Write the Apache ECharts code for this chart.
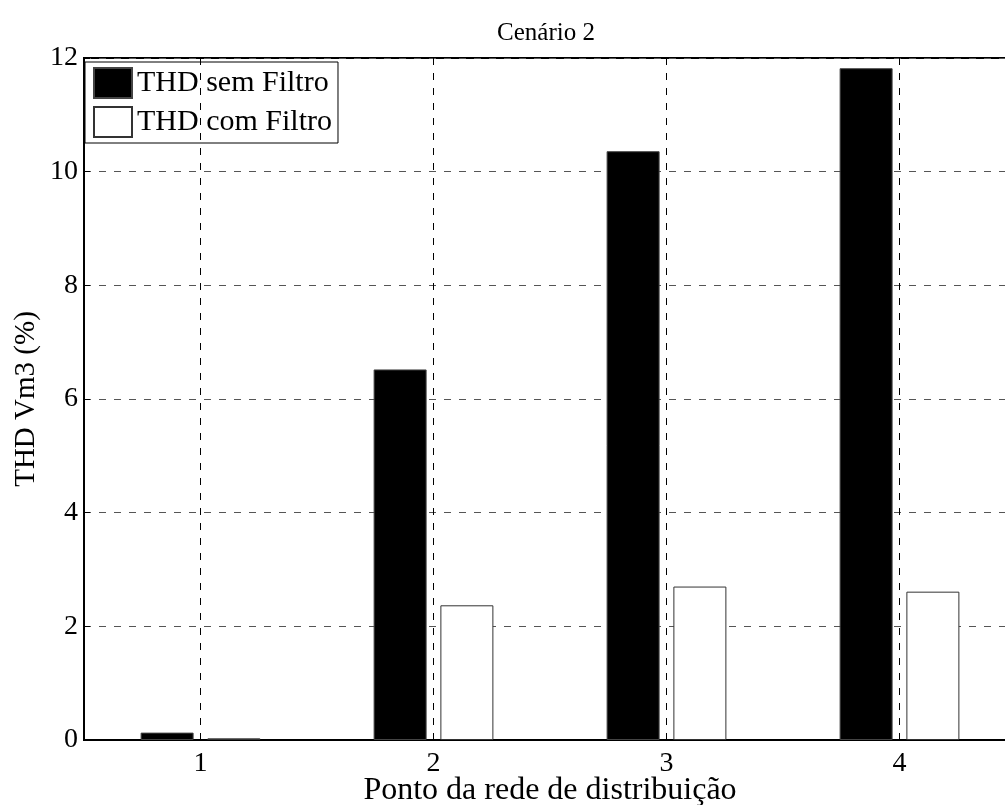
<!DOCTYPE html>
<html>
<head>
<meta charset="utf-8">
<script src="https://cdn.jsdelivr.net/npm/echarts@6/dist/echarts.min.js"></script>
<style>
  html, body { margin: 0; padding: 0; background: #fff; overflow: hidden; }
  /* the plot runs slightly past the right edge of the window */
  #chart { width: 1016px; height: 805px; }
</style>
</head>
<body>
<div id="chart"></div>
<script>
// Measurement points along the distribution network
const points = ['1', '2', '3', '4'];
// Voltage THD at Vm3 (%), without and with the filter
const thdSemFiltro = [0.13, 6.52, 10.36, 11.82];
const thdComFiltro = [0.03, 2.37, 2.70, 2.61];
const seriesNames = ['THD sem Filtro', 'THD com Filtro'];
const yTicks = { min: 0, max: 12, step: 2 };

const font = 'Liberation Serif';
const chart = echarts.init(document.getElementById('chart'));

chart.setOption({
  animation: false,
  backgroundColor: '#ffffff',
  title: {
    text: 'Cenário 2',
    left: 541,
    textAlign: 'center',
    top: 16,
    textStyle: { fontFamily: font, fontSize: 25, fontWeight: 'normal', color: '#000' }
  },
  legend: {
    left: 85,
    top: 62,
    orient: 'vertical',
    selectedMode: false,
    backgroundColor: '#fff',
    borderColor: '#000',
    borderWidth: 1,
    borderRadius: 0,
    padding: [5, 6, 5, 8],
    itemGap: 7,
    itemWidth: 38,
    itemHeight: 30,
    icon: 'rect',
    textStyle: { fontFamily: font, fontSize: 30, color: '#000' },
    data: seriesNames
  },
  grid: {
    left: 84,
    right: 0,
    top: 58,
    bottom: 65,
    outerBoundsMode: 'none',
    show: true,
    borderColor: '#000',
    borderWidth: 2,
    backgroundColor: 'transparent'
  },
  xAxis: {
    type: 'category',
    data: points,
    name: 'Ponto da rede de distribuição',
    nameLocation: 'middle',
    nameGap: 35,
    nameMoveOverlap: false,
    nameTextStyle: { fontFamily: font, fontSize: 32, color: '#000' },
    axisLine: { show: true, lineStyle: { color: '#000', width: 2 } },
    axisTick: { show: true, inside: true, alignWithLabel: true, length: 6, lineStyle: { color: '#000' } },
    axisLabel: { fontFamily: font, fontSize: 28, color: '#000', margin: 10 },
    splitLine: { show: false }
  },
  yAxis: {
    type: 'value',
    min: yTicks.min,
    max: yTicks.max,
    interval: yTicks.step,
    name: 'THD Vm3 (%)',
    nameLocation: 'middle',
    nameGap: 43,
    nameMoveOverlap: false,
    nameTextStyle: { fontFamily: font, fontSize: 29, color: '#000' },
    axisLine: { show: true, lineStyle: { color: '#000', width: 2 } },
    axisTick: { show: true, inside: true, length: 6, lineStyle: { color: '#000' } },
    axisLabel: { fontFamily: font, fontSize: 28, color: '#000', margin: 6 },
    splitLine: { show: true, lineStyle: { color: '#555', width: 1, type: [7, 8] } }
  },
  series: [
    {
      name: seriesNames[0],
      type: 'bar',
      data: thdSemFiltro,
      barWidth: 53,
      barGap: '26%',
      itemStyle: { color: '#000', borderColor: '#444', borderWidth: 1 }
    },
    {
      name: seriesNames[1],
      type: 'bar',
      data: thdComFiltro,
      barWidth: 53,
      itemStyle: { color: '#fff', borderColor: '#333', borderWidth: 1 }
    },
    {
      // vertical dashed grid lines through each category centre
      name: 'grade',
      type: 'line',
      data: [],
      showSymbol: false,
      silent: true,
      z: 1,
      markLine: {
        silent: true,
        symbol: 'none',
        label: { show: false },
        lineStyle: { color: '#000', width: 1, type: [7, 8] },
        data: points.map(p => ({ xAxis: p }))
      }
    }
  ]
});
</script>
</body>
</html>
